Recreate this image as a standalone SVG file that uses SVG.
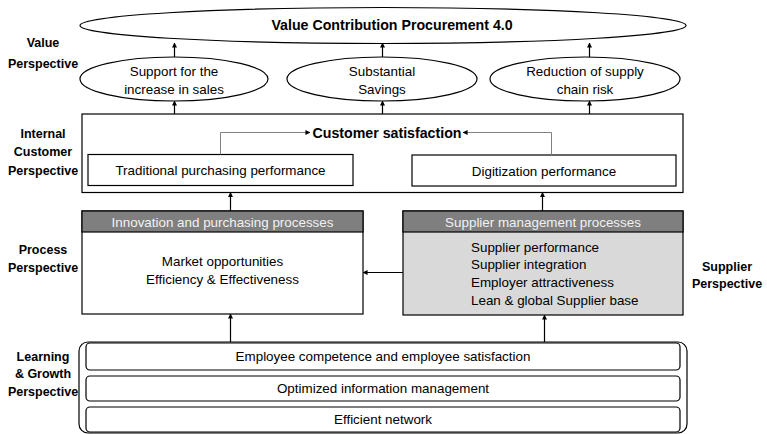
<svg xmlns="http://www.w3.org/2000/svg" width="767" height="434" viewBox="0 0 767 434">
<defs>
<marker id="ah" viewBox="0 0 6 6" refX="5.5" refY="3" markerWidth="5" markerHeight="5" orient="auto" markerUnits="userSpaceOnUse">
<path d="M0,0 L6,3 L0,6 z" fill="#000"/>
</marker>
<marker id="ahg" viewBox="0 0 6 6" refX="5.5" refY="3" markerWidth="5" markerHeight="5" orient="auto" markerUnits="userSpaceOnUse">
<path d="M0,0 L6,3 L0,6 z" fill="#000"/>
</marker>
</defs>
<style>
text{font-family:"Liberation Sans",Arial,sans-serif;fill:#000}
.t{font-size:13.4px;text-anchor:middle}
.l{font-size:13.4px}
.lb{font-size:12.5px;font-weight:bold;text-anchor:middle}
.sh{fill:#fff;stroke:#000;stroke-width:1.2}
.c{fill:none;stroke:#000;stroke-width:1.2}
.g{fill:none;stroke:#808080;stroke-width:1}
.hd{font-size:13.4px;text-anchor:middle;fill:#f2f2f2}
</style>
<rect width="767" height="434" fill="#fff"/>

<g id="labels">
<text class="lb" x="43" y="47">Value</text>
<text class="lb" x="43" y="68">Perspective</text>
<text class="lb" x="43" y="138">Internal</text>
<text class="lb" x="43" y="156">Customer</text>
<text class="lb" x="43" y="175">Perspective</text>
<text class="lb" x="43" y="254">Process</text>
<text class="lb" x="43" y="272">Perspective</text>
<text class="lb" x="43" y="361">Learning</text>
<text class="lb" x="43" y="378">&amp; Growth</text>
<text class="lb" x="43" y="396">Perspective</text>
<text class="lb" x="727" y="271">Supplier</text>
<text class="lb" x="727" y="288">Perspective</text>
</g>

<g id="value">
<ellipse class="sh" cx="383" cy="25.5" rx="303" ry="18"/>
<text x="392" y="30" style="font-size:14.2px;font-weight:bold;text-anchor:middle">Value Contribution Procurement 4.0</text>
</g>
<g id="sales">
<ellipse class="sh" cx="174" cy="79" rx="94" ry="22"/>
<text class="t" x="174" y="75.5">Support for the</text>
<text class="t" x="174" y="93.5">increase in sales</text>
</g>
<g id="savings">
<ellipse class="sh" cx="382" cy="79" rx="95" ry="22"/>
<text class="t" x="382" y="75.5">Substantial</text>
<text class="t" x="382" y="93.5">Savings</text>
</g>
<g id="risk">
<ellipse class="sh" cx="585" cy="79" rx="95" ry="22"/>
<text class="t" x="585" y="75.5">Reduction of supply</text>
<text class="t" x="585" y="93.5">chain risk</text>
</g>

<g id="internal">
<rect class="sh" x="82" y="114" width="601" height="78.5"/>
<text x="387" y="138" style="font-size:14.2px;font-weight:bold;text-anchor:middle">Customer satisfaction</text>
</g>
<g id="traditional">
<rect class="sh" x="88" y="154.5" width="265" height="31"/>
<text class="t" x="220.5" y="175">Traditional purchasing performance</text>
</g>
<g id="digitization">
<rect class="sh" x="412" y="155" width="264" height="31"/>
<text class="t" x="544" y="175.5">Digitization performance</text>
</g>

<g id="innovation">
<rect class="sh" x="82" y="211" width="281" height="103"/>
<rect x="82" y="211" width="281" height="21" fill="#7f7f7f" stroke="#000" stroke-width="1.2"/>
<text class="hd" x="222.5" y="226.5">Innovation and purchasing processes</text>
<text class="t" x="222.5" y="265.5">Market opportunities</text>
<text class="t" x="222.5" y="283.5">Efficiency &amp; Effectiveness</text>
</g>
<g id="supplier">
<rect x="403" y="211" width="280" height="104" fill="#d9d9d9" stroke="#000" stroke-width="1.2"/>
<rect x="403" y="211" width="280" height="21" fill="#7f7f7f" stroke="#000" stroke-width="1.2"/>
<text class="hd" x="543" y="226.5">Supplier management processes</text>
<text class="l" x="471" y="251.5">Supplier performance</text>
<text class="l" x="471" y="268.5">Supplier integration</text>
<text class="l" x="471" y="286.5">Employer attractiveness</text>
<text class="l" x="471" y="304.5">Lean &amp; global Supplier base</text>
</g>

<g id="learning">
<rect x="79" y="342" width="608" height="91" rx="9" fill="none" stroke="#000" stroke-width="1.2"/>
<g id="competence">
<rect class="sh" x="86" y="343" width="594" height="27" rx="4"/>
<text class="t" x="383" y="361">Employee competence and employee satisfaction</text>
</g>
<g id="information">
<rect class="sh" x="86" y="376" width="594" height="25" rx="4"/>
<text class="t" x="383" y="393">Optimized information management</text>
</g>
<g id="network">
<rect class="sh" x="86" y="407" width="594" height="25" rx="4"/>
<text class="t" x="383" y="424">Efficient network</text>
</g>
</g>

<g id="connectors">
<line class="c" x1="174.5" y1="57" x2="174.5" y2="43" marker-end="url(#ah)"/>
<line class="c" x1="382.5" y1="57" x2="382.5" y2="43" marker-end="url(#ah)"/>
<line class="c" x1="589.5" y1="57" x2="589.5" y2="43" marker-end="url(#ah)"/>
<line class="c" x1="174.5" y1="114" x2="174.5" y2="101" marker-end="url(#ah)"/>
<line class="c" x1="382.5" y1="114" x2="382.5" y2="101" marker-end="url(#ah)"/>
<line class="c" x1="589.5" y1="114" x2="589.5" y2="101" marker-end="url(#ah)"/>
<polyline class="g" points="220.5,154.5 220.5,132.5 310,132.5" marker-end="url(#ahg)"/>
<polyline class="g" points="551.5,155 551.5,132.5 463,132.5" marker-end="url(#ahg)"/>
<line class="c" x1="230.5" y1="211" x2="230.5" y2="192.5" marker-end="url(#ah)"/>
<line class="c" x1="542.5" y1="211" x2="542.5" y2="192.5" marker-end="url(#ah)"/>
<line class="c" x1="403" y1="272.5" x2="363" y2="272.5" marker-end="url(#ah)"/>
<line class="c" x1="230.5" y1="342" x2="230.5" y2="314" marker-end="url(#ah)"/>
<line class="c" x1="544.5" y1="342" x2="544.5" y2="315" marker-end="url(#ah)"/>
</g>
</svg>
